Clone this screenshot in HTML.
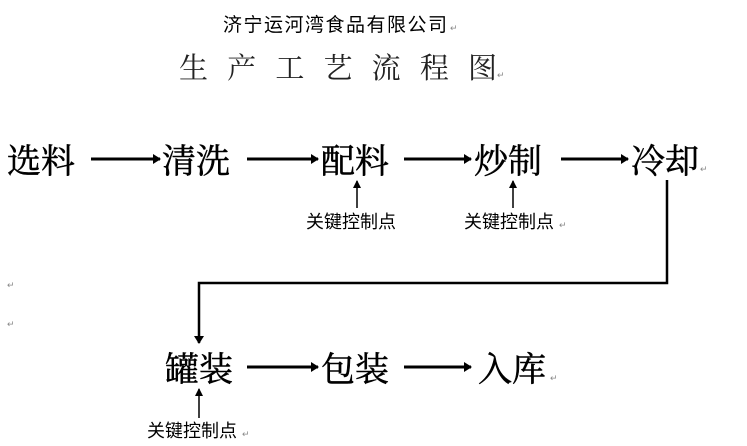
<!DOCTYPE html>
<html><head><meta charset="utf-8"><style>
html,body{margin:0;padding:0;background:#fff;width:747px;height:446px;overflow:hidden}
svg{display:block}
.big{font-family:"Liberation Serif","Noto Serif CJK SC",serif;font-size:34px;fill:#000;stroke:#000;stroke-width:0.5}
.sm{font-family:"Liberation Sans","Noto Sans CJK SC",sans-serif;font-size:18px;fill:#000}
.t2{font-family:"Liberation Serif","Noto Serif CJK SC",serif;font-size:29px;fill:#222}
.pm{font-family:"Liberation Sans",sans-serif;font-size:9px;fill:#888}
</style></head><body>
<svg width="747" height="446" viewBox="0 0 747 446" xmlns="http://www.w3.org/2000/svg">
<defs><marker id="a" markerWidth="8" markerHeight="8" refX="7" refY="4" orient="auto" markerUnits="userSpaceOnUse"><path d="M0,0 L8,4 L0,8 z" fill="#000"/></marker>
<marker id="b" markerWidth="8" markerHeight="10" refX="7" refY="5" orient="auto" markerUnits="userSpaceOnUse"><path d="M0,0 L8,5 L0,10 z" fill="#000"/></marker></defs>
<text x="223" y="31" class="sm" style="font-size:19px" textLength="224">济宁运河湾食品有限公司</text><text x="450" y="31" class="pm">↵</text>
<text x="179" y="78" class="t2" textLength="318">生 产 工 艺 流 程 图</text><text x="497" y="78" class="pm">↵</text>
<g class="big">
<text x="7" y="173">选料</text><text x="162" y="173">清洗</text><text x="321" y="173">配料</text><text x="474" y="173">炒制</text><text x="631" y="173">冷却</text>
<text x="165" y="381">罐装</text><text x="321" y="381">包装</text><text x="478" y="381">入库</text>
</g>
<text x="700" y="172" class="pm">↵</text><text x="550" y="381" class="pm">↵</text>
<text x="7" y="288" class="pm">↵</text><text x="7" y="327" class="pm">↵</text>
<g stroke="#000" stroke-width="3" fill="none">
<line x1="91" y1="159" x2="160" y2="159" marker-end="url(#b)"/>
<line x1="247" y1="159" x2="318" y2="159" marker-end="url(#b)"/>
<line x1="404" y1="159" x2="471" y2="159" marker-end="url(#b)"/>
<line x1="561" y1="159" x2="628" y2="159" marker-end="url(#b)"/>
<line x1="247" y1="367" x2="318" y2="367" marker-end="url(#b)"/>
<line x1="404" y1="367" x2="471" y2="367" marker-end="url(#b)"/>
<polyline points="667,180 667,283 199,283 199,343" stroke-width="2.5" marker-end="url(#b)"/>
</g>
<g stroke="#000" stroke-width="1.5">
<line x1="357" y1="208" x2="357" y2="181" marker-end="url(#a)"/>
<line x1="513" y1="208" x2="513" y2="181" marker-end="url(#a)"/>
<line x1="199" y1="418" x2="199" y2="389" marker-end="url(#a)"/>
</g>
<text x="306" y="228" class="sm">关键控制点</text>
<text x="464" y="228" class="sm">关键控制点</text><text x="559" y="228" class="pm">↵</text>
<text x="147" y="437" class="sm">关键控制点</text><text x="242" y="437" class="pm">↵</text>
</svg>
</body></html>
